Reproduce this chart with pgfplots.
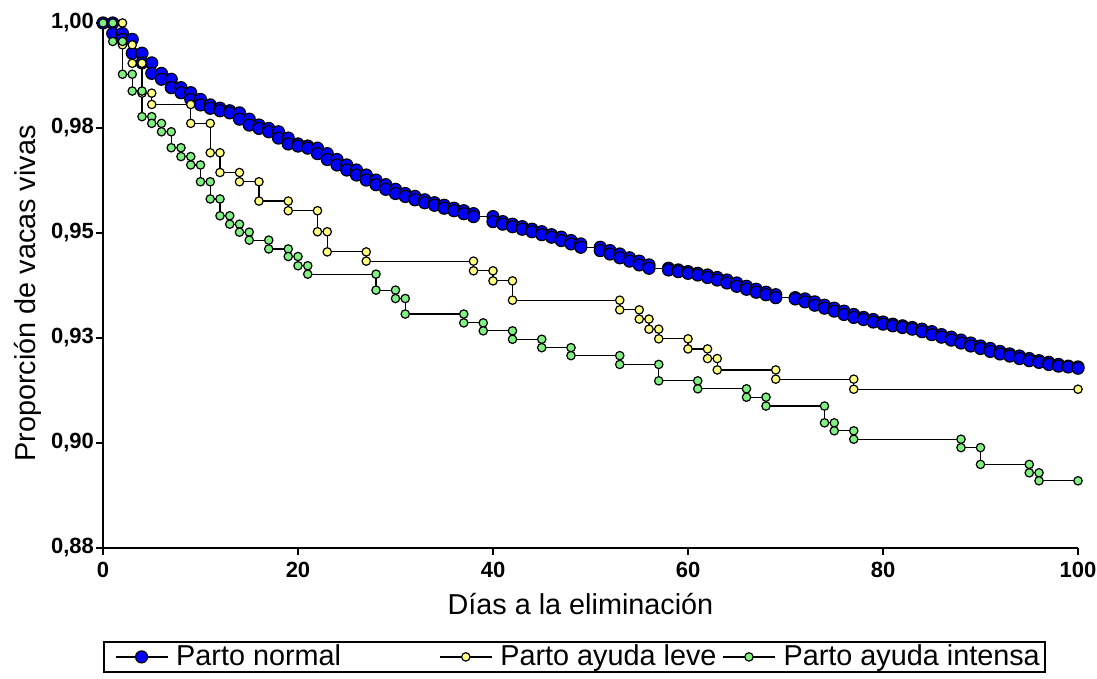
\documentclass[border=0pt]{standalone}
\usepackage{fontspec}
\setmainfont{Liberation Sans}
\usepackage{pgfplots}
\pgfplotsset{compat=1.18}
\definecolor{ptnormal}{HTML}{0000FF}
\definecolor{ptleve}{HTML}{FFFF80}
\definecolor{ptintensa}{HTML}{80F080}

\begin{document}
\begin{tikzpicture}
\path[use as bounding box] (-51.5pt,-65.5pt) rectangle (497pt,274pt);
\begin{axis}[
  scale only axis, width=487.5pt, height=262.5pt,
  at={(0,0)}, anchor=south west,
  xmin=0, xmax=100, ymin=0.875, ymax=1.0,
  clip=false,
  axis x line=bottom, axis y line=left,
  axis line style={-, line width=1.3pt},
  tick align=outside, major tick length=3.5pt,
  tick style={line width=1.3pt, black},
  xtick={0,20,40,60,80,100},
  xticklabels={0,20,40,60,80,100},
  ytick={0.875,0.9,0.925,0.95,0.975,1},
  yticklabels={{0,88},{0,90},{0,93},{0,95},{0,98},{1,00}},
  /pgf/number format/assume math mode=true,
  tick label style={font=\fontsize{11}{13}\selectfont\bfseries},
  yticklabel style={xshift=2.5pt},
  xlabel={Días a la eliminación},
  ylabel={Proporción de vacas vivas},
  every axis x label/.style={at={(axis description cs:0.4897,-0.1067)}, anchor=center,
    font=\fontsize{14.4}{17}\selectfont},
  every axis y label/.style={at={(axis description cs:-0.0769,0.4848)}, anchor=center,
    rotate=90, font=\fontsize{14.4}{17}\selectfont},
  legend columns=3, legend cell align=left,
  legend style={at={(0,-0.1771)}, anchor=north west, draw=black, line width=1pt,
    inner xsep=0pt, inner ysep=1.5pt, column sep=0pt,
    font=\fontsize{14.4}{17}\selectfont, nodes={inner sep=0pt}},
  legend image code/.code={\path (0pt,0pt) (35.5pt,0pt);
    \draw[mark repeat=2,mark phase=2,#1] plot coordinates {(5.5pt,0pt) (18.5pt,0pt) (31.5pt,0pt)};},
]
% Parto normal
\addplot[black, line width=0.6pt, mark=*, mark size=3pt,
  mark options={fill=ptnormal, draw=black, line width=0.6pt}] coordinates {
(0,1.0000) (1,1.0000) (1,0.9975) (2,0.9975) (2,0.9961) (3,0.9961) (3,0.9928) (4,0.9928)
(4,0.9905) (5,0.9905) (5,0.9880) (6,0.9880) (6,0.9866) (7,0.9866) (7,0.9846) (8,0.9846)
(8,0.9834) (9,0.9834) (9,0.9818) (10,0.9818) (10,0.9805) (11,0.9805) (11,0.9797) (12,0.9797)
(12,0.9791) (13,0.9791) (13,0.9786) (14,0.9786) (14,0.9771) (15,0.9771) (15,0.9757) (16,0.9757)
(16,0.9749) (17,0.9749) (17,0.9741) (18,0.9741) (18,0.9726) (19,0.9726) (19,0.9712) (20,0.9712)
(20,0.9707) (21,0.9707) (21,0.9702) (22,0.9702) (22,0.9689) (23,0.9689) (23,0.9675) (24,0.9675)
(24,0.9662) (25,0.9662) (25,0.9650) (26,0.9650) (26,0.9638) (27,0.9638) (27,0.9626) (28,0.9626)
(28,0.9615) (29,0.9615) (29,0.9604) (30,0.9604) (30,0.9594) (31,0.9594) (31,0.9587) (32,0.9587)
(32,0.9579) (33,0.9579) (33,0.9572) (34,0.9572) (34,0.9566) (35,0.9566) (35,0.9559) (36,0.9559)
(36,0.9553) (37,0.9553) (37,0.9546) (38,0.9546) (38,0.9539) (40,0.9539) (40,0.9527) (41,0.9527)
(41,0.9521) (42,0.9521) (42,0.9515) (43,0.9515) (43,0.9509) (44,0.9509) (44,0.9503) (45,0.9503)
(45,0.9496) (46,0.9496) (46,0.9490) (47,0.9490) (47,0.9482) (48,0.9482) (48,0.9474) (49,0.9474)
(49,0.9466) (51,0.9466) (51,0.9458) (52,0.9458) (52,0.9450) (53,0.9450) (53,0.9441) (54,0.9441)
(54,0.9433) (55,0.9433) (55,0.9424) (56,0.9424) (56,0.9416) (58,0.9416) (58,0.9412) (59,0.9412)
(59,0.9408) (60,0.9408) (60,0.9404) (61,0.9404) (61,0.9400) (62,0.9400) (62,0.9394) (63,0.9394)
(63,0.9388) (64,0.9388) (64,0.9381) (65,0.9381) (65,0.9373) (66,0.9373) (66,0.9366) (67,0.9366)
(67,0.9359) (68,0.9359) (68,0.9353) (69,0.9353) (69,0.9346) (71,0.9346) (71,0.9343) (72,0.9343)
(72,0.9336) (73,0.9336) (73,0.9328) (74,0.9328) (74,0.9321) (75,0.9321) (75,0.9314) (76,0.9314)
(76,0.9306) (77,0.9306) (77,0.9299) (78,0.9299) (78,0.9294) (79,0.9294) (79,0.9288) (80,0.9288)
(80,0.9283) (81,0.9283) (81,0.9279) (82,0.9279) (82,0.9275) (83,0.9275) (83,0.9271) (84,0.9271)
(84,0.9265) (85,0.9265) (85,0.9258) (86,0.9258) (86,0.9252) (87,0.9252) (87,0.9245) (88,0.9245)
(88,0.9238) (89,0.9238) (89,0.9231) (90,0.9231) (90,0.9225) (91,0.9225) (91,0.9218) (92,0.9218)
(92,0.9212) (93,0.9212) (93,0.9207) (94,0.9207) (94,0.9201) (95,0.9201) (95,0.9196) (96,0.9196)
(96,0.9192) (97,0.9192) (97,0.9187) (98,0.9187) (98,0.9183) (99,0.9183) (99,0.9181) (100,0.9181)
(100,0.9178)
};
\addlegendentry{\makebox[126pt][l]{Parto normal}}
% Parto ayuda leve
\addplot[black, line width=0.6pt, mark=*, mark size=2.1pt,
  mark options={fill=ptleve, draw=black, line width=0.6pt}] coordinates {
(0,1.0000) (2,1.0000) (2,0.9948) (3,0.9948) (3,0.9904) (4,0.9904) (4,0.9833) (5,0.9833)
(5,0.9806) (9,0.9806) (9,0.9761) (11,0.9761) (11,0.9691) (12,0.9691) (12,0.9644) (14,0.9644)
(14,0.9622) (16,0.9622) (16,0.9576) (19,0.9576) (19,0.9553) (22,0.9553) (22,0.9503) (23,0.9503)
(23,0.9455) (27,0.9455) (27,0.9433) (38,0.9433) (38,0.9410) (40,0.9410) (40,0.9386) (42,0.9386)
(42,0.9340) (53,0.9340) (53,0.9317) (55,0.9317) (55,0.9295) (56,0.9295) (56,0.9271) (57,0.9271)
(57,0.9248) (60,0.9248) (60,0.9224) (62,0.9224) (62,0.9201) (63,0.9201) (63,0.9174) (69,0.9174)
(69,0.9152) (77,0.9152) (77,0.9128) (100,0.9128)
};
\addlegendentry{\makebox[105.5pt][l]{Parto ayuda leve}}
% Parto ayuda intensa
\addplot[black, line width=0.6pt, mark=*, mark size=2.1pt,
  mark options={fill=ptintensa, draw=black, line width=0.6pt}] coordinates {
(0,1.0000) (1,1.0000) (1,0.9956) (2,0.9956) (2,0.9878) (3,0.9878) (3,0.9838) (4,0.9838)
(4,0.9777) (5,0.9777) (5,0.9761) (6,0.9761) (6,0.9741) (7,0.9741) (7,0.9703) (8,0.9703)
(8,0.9682) (9,0.9682) (9,0.9662) (10,0.9662) (10,0.9622) (11,0.9622) (11,0.9581) (12,0.9581)
(12,0.9541) (13,0.9541) (13,0.9521) (14,0.9521) (14,0.9502) (15,0.9502) (15,0.9483) (17,0.9483)
(17,0.9462) (19,0.9462) (19,0.9444) (20,0.9444) (20,0.9422) (21,0.9422) (21,0.9402) (28,0.9402)
(28,0.9364) (30,0.9364) (30,0.9344) (31,0.9344) (31,0.9307) (37,0.9307) (37,0.9286) (39,0.9286)
(39,0.9267) (42,0.9267) (42,0.9247) (45,0.9247) (45,0.9227) (48,0.9227) (48,0.9208) (53,0.9208)
(53,0.9187) (57,0.9187) (57,0.9148) (61,0.9148) (61,0.9129) (66,0.9129) (66,0.9109) (68,0.9109)
(68,0.9088) (74,0.9088) (74,0.9048) (75,0.9048) (75,0.9029) (77,0.9029) (77,0.9009) (88,0.9009)
(88,0.8989) (90,0.8989) (90,0.8949) (95,0.8949) (95,0.8929) (96,0.8929) (96,0.8910) (100,0.8910)
};
\addlegendentry{\makebox[130.5pt][l]{Parto ayuda intensa}}
\end{axis}
\end{tikzpicture}
\end{document}
